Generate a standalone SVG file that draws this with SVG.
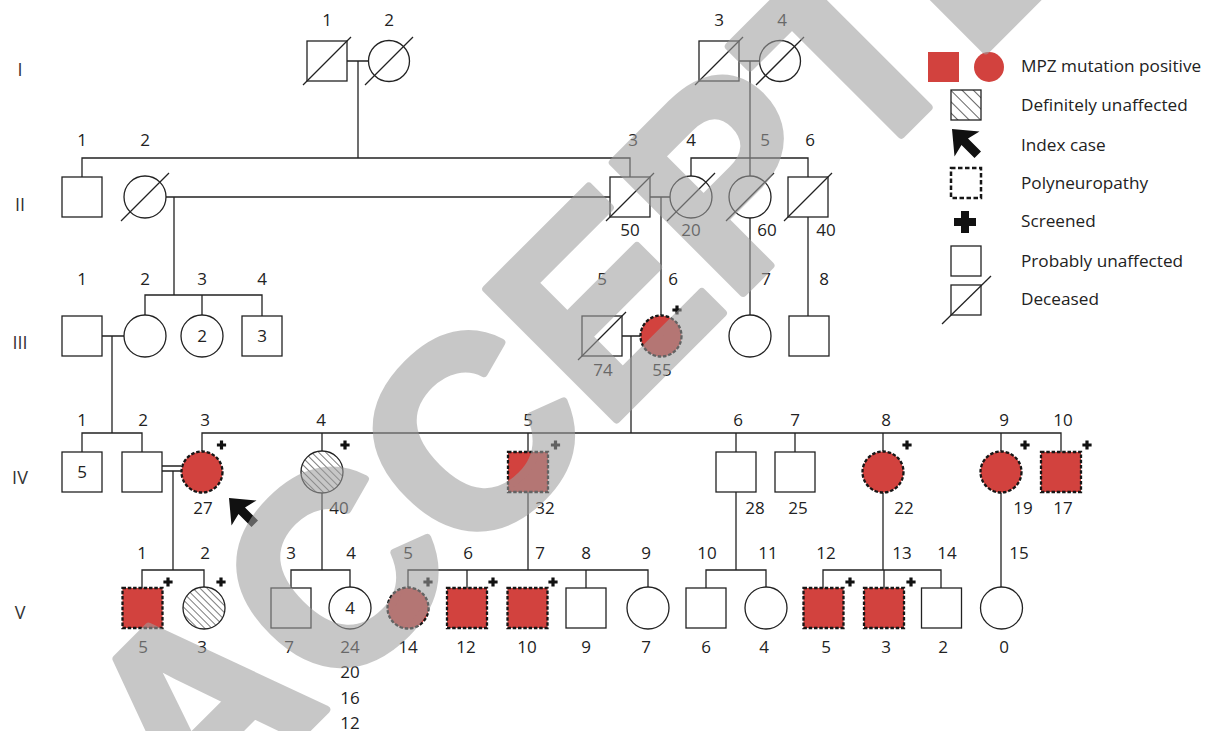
<svg xmlns="http://www.w3.org/2000/svg" xmlns:xlink="http://www.w3.org/1999/xlink" width="1213" height="731" viewBox="0 0 1213 731">
<style>
.ln{stroke:#222;stroke-width:1.3;fill:none}
.nd{fill:#fff;stroke:#222;stroke-width:1.3}
.aff{fill:#d2423e;stroke:#161616;stroke-width:2.3;stroke-dasharray:3.5 1.8}
.hat{fill:url(#hatch);stroke:#222;stroke-width:1.3}
.sl{stroke:#222;stroke-width:1.3}
.t{font-family:"Open Sans","Liberation Sans",sans-serif;font-size:17px;fill:#222;text-anchor:middle}
.g{font-family:"Open Sans","Liberation Sans",sans-serif;font-size:18px;fill:#333;text-anchor:middle}
.lg{font-family:"Open Sans","Liberation Sans",sans-serif;font-size:17.2px;fill:#222}
.pl{fill:#111}
</style>
<defs>
<pattern id="hatch" width="5" height="10" patternUnits="userSpaceOnUse" patternTransform="rotate(-45)"><line x1="0" y1="0" x2="0" y2="10" stroke="#222" stroke-width="1.2"/></pattern>
<pattern id="hatch2" width="8" height="10" patternUnits="userSpaceOnUse" patternTransform="rotate(-45)"><line x1="0" y1="0" x2="0" y2="10" stroke="#222" stroke-width="1.4"/></pattern>
<path id="plus" d="M-1.6,-4.6h3.2v3h3v3.2h-3v3h-3.2v-3h-3v-3.2h3z"/>
<path id="arrow" d="M0,0 L27.5,2.5 L16,9.5 L29,22.5 L22.5,29 L9.5,16 L2.5,27.5 Z"/>
</defs>
<rect width="1213" height="731" fill="#fff"/>

<g id="generations">
<text class="g" x="20" y="76">I</text>
<text class="g" x="20" y="211">II</text>
<text class="g" x="20" y="349">III</text>
<text class="g" x="20" y="484">IV</text>
<text class="g" x="20" y="619">V</text>
</g>

<g id="connectors" class="ln">
<path d="M347,61H368M358,61V158"/>
<path d="M739,61H759M750,61V176"/>
<path d="M82,177V158H630V177"/>
<path d="M691,176V158H808V177"/>
<path d="M166,197H610M174,197V295"/>
<path d="M650,197H670M661,197V315"/>
<path d="M750,218V315M808,217V316"/>
<path d="M145,315V295H262V316M202,295V315"/>
<path d="M102,336H124M112,336V433"/>
<path d="M622,336H640M631,336V433"/>
<path d="M82,452V433H142V452"/>
<path d="M202,451V433H1061V452M322,433V451M528,433V452M736,433V452M795,433V452M883,433V451M1001,433V451"/>
<path d="M162,466H181M162,471H181M173,471V570"/>
<path d="M322,493V570M528,492V570M736,492V570M883,493V570M1001,493V587"/>
<path d="M142,588V570H204V587"/>
<path d="M291,588V570H350V587"/>
<path d="M408,587V570H648V587M467,570V588M586,570V588"/>
<path d="M706,588V570H766V587"/>
<path d="M823,588V570H941V588M884,570V588"/>
</g>

<g id="I-1"><rect class="nd" x="307" y="41" width="40" height="40"/><line class="sl" x1="303" y1="85" x2="351" y2="37"/><text class="t" x="327" y="26">1</text></g>
<g id="I-2"><circle class="nd" cx="389" cy="61" r="20.5"/><line class="sl" x1="365" y1="85" x2="413" y2="37"/><text class="t" x="389" y="26">2</text></g>
<g id="I-3"><rect class="nd" x="699" y="41" width="40" height="40"/><line class="sl" x1="695" y1="85" x2="743" y2="37"/><text class="t" x="719" y="26">3</text></g>
<g id="I-4"><circle class="nd" cx="780" cy="61" r="20.5"/><line class="sl" x1="756" y1="85" x2="804" y2="37"/><text class="t" x="782" y="26">4</text></g>

<g id="II-1"><rect class="nd" x="62" y="177" width="40" height="40"/><text class="t" x="82" y="146">1</text></g>
<g id="II-2"><circle class="nd" cx="145" cy="197" r="21"/><line class="sl" x1="121" y1="221" x2="169" y2="173"/><text class="t" x="145" y="146">2</text></g>
<g id="II-3"><rect class="nd" x="610" y="177" width="40" height="40"/><line class="sl" x1="606" y1="221" x2="654" y2="173"/><text class="t" x="633" y="146">3</text><text class="t" x="630" y="236">50</text></g>
<g id="II-4"><circle class="nd" cx="691" cy="197" r="21"/><line class="sl" x1="667" y1="221" x2="715" y2="173"/><text class="t" x="691" y="146">4</text><text class="t" x="691" y="236">20</text></g>
<g id="II-5"><circle class="nd" cx="750" cy="197" r="21"/><line class="sl" x1="726" y1="221" x2="774" y2="173"/><text class="t" x="765" y="146">5</text><text class="t" x="767" y="236">60</text></g>
<g id="II-6"><rect class="nd" x="788" y="177" width="40" height="40"/><line class="sl" x1="784" y1="221" x2="832" y2="173"/><text class="t" x="810" y="146">6</text><text class="t" x="826" y="236">40</text></g>

<g id="III-1"><rect class="nd" x="62" y="316" width="40" height="40"/><text class="t" x="82" y="285">1</text></g>
<g id="III-2"><circle class="nd" cx="145" cy="336" r="21"/><text class="t" x="145" y="285">2</text></g>
<g id="III-3"><circle class="nd" cx="202" cy="336" r="21"/><text class="t" x="202" y="342">2</text><text class="t" x="202" y="285">3</text></g>
<g id="III-4"><rect class="nd" x="242" y="316" width="40" height="40"/><text class="t" x="262" y="342">3</text><text class="t" x="262" y="285">4</text></g>
<g id="III-5"><rect class="nd" x="582" y="316" width="40" height="40"/><line class="sl" x1="578" y1="360" x2="626" y2="312"/><text class="t" x="602" y="285">5</text><text class="t" x="603" y="376">74</text></g>
<g id="III-6"><circle class="aff" cx="661" cy="336" r="20.5"/><use href="#plus" class="pl" x="677" y="310"/><text class="t" x="673" y="285">6</text><text class="t" x="662" y="376">55</text></g>
<g id="III-7"><circle class="nd" cx="750" cy="336" r="21"/><text class="t" x="766" y="285">7</text></g>
<g id="III-8"><rect class="nd" x="789" y="316" width="40" height="40"/><text class="t" x="824" y="285">8</text></g>

<g id="IV-1"><rect class="nd" x="62" y="452" width="40" height="40"/><text class="t" x="82" y="478">5</text><text class="t" x="82" y="426">1</text></g>
<g id="IV-2"><rect class="nd" x="122" y="452" width="40" height="40"/><text class="t" x="143" y="426">2</text></g>
<g id="IV-3"><circle class="aff" cx="202" cy="472" r="20.5"/><use href="#plus" class="pl" x="221.5" y="445"/><text class="t" x="205" y="426">3</text><text class="t" x="203" y="514">27</text></g>
<g id="IV-4"><circle class="hat" cx="322" cy="472" r="21"/><use href="#plus" class="pl" x="345" y="445"/><text class="t" x="321" y="426">4</text><text class="t" x="339" y="514">40</text></g>
<g id="IV-5"><rect class="aff" x="508" y="452" width="40" height="40"/><use href="#plus" class="pl" x="555.5" y="445"/><text class="t" x="528" y="426">5</text><text class="t" x="545" y="514">32</text></g>
<g id="IV-6"><rect class="nd" x="716" y="452" width="40" height="40"/><text class="t" x="738" y="426">6</text><text class="t" x="755" y="514">28</text></g>
<g id="IV-7"><rect class="nd" x="775" y="452" width="40" height="40"/><text class="t" x="795" y="426">7</text><text class="t" x="798" y="514">25</text></g>
<g id="IV-8"><circle class="aff" cx="883" cy="472" r="20.5"/><use href="#plus" class="pl" x="907" y="445"/><text class="t" x="886" y="426">8</text><text class="t" x="904" y="514">22</text></g>
<g id="IV-9"><circle class="aff" cx="1001" cy="472" r="20.5"/><use href="#plus" class="pl" x="1025" y="445"/><text class="t" x="1004" y="426">9</text><text class="t" x="1023" y="514">19</text></g>
<g id="IV-10"><rect class="aff" x="1041" y="452" width="40" height="40"/><use href="#plus" class="pl" x="1087" y="445"/><text class="t" x="1063" y="426">10</text><text class="t" x="1063" y="514">17</text></g>
<g id="index-arrow"><use href="#arrow" fill="#111" x="229" y="498"/></g>

<g id="V-1"><rect class="aff" x="122.5" y="588" width="40" height="40"/><use href="#plus" class="pl" x="168" y="582"/><text class="t" x="142" y="559">1</text><text class="t" x="143" y="653">5</text></g>
<g id="V-2"><circle class="hat" cx="204" cy="608" r="21"/><use href="#plus" class="pl" x="221" y="582"/><text class="t" x="205" y="559">2</text><text class="t" x="202" y="653">3</text></g>
<g id="V-3"><rect class="nd" x="271" y="588" width="40" height="40"/><text class="t" x="291" y="559">3</text><text class="t" x="289" y="653">7</text></g>
<g id="V-4"><circle class="nd" cx="350" cy="608" r="21"/><text class="t" x="350" y="614">4</text><text class="t" x="351" y="559">4</text><text class="t" x="350" y="653">24</text><text class="t" x="350" y="678">20</text><text class="t" x="350" y="703.5">16</text><text class="t" x="350" y="728.5">12</text></g>
<g id="V-5"><circle class="aff" cx="408" cy="608" r="20.5"/><use href="#plus" class="pl" x="428" y="582"/><text class="t" x="408" y="559">5</text><text class="t" x="408" y="653">14</text></g>
<g id="V-6"><rect class="aff" x="447" y="588" width="40" height="40"/><use href="#plus" class="pl" x="493" y="582"/><text class="t" x="468" y="559">6</text><text class="t" x="466" y="653">12</text></g>
<g id="V-7"><rect class="aff" x="507.5" y="588" width="40" height="40"/><use href="#plus" class="pl" x="553" y="582"/><text class="t" x="540" y="559">7</text><text class="t" x="527" y="653">10</text></g>
<g id="V-8"><rect class="nd" x="566" y="588" width="40" height="40"/><text class="t" x="586" y="559">8</text><text class="t" x="586" y="653">9</text></g>
<g id="V-9"><circle class="nd" cx="648" cy="608" r="21"/><text class="t" x="646" y="559">9</text><text class="t" x="646" y="653">7</text></g>
<g id="V-10"><rect class="nd" x="686" y="588" width="40" height="40"/><text class="t" x="707" y="559">10</text><text class="t" x="706" y="653">6</text></g>
<g id="V-11"><circle class="nd" cx="766" cy="608" r="21"/><text class="t" x="768" y="559">11</text><text class="t" x="764" y="653">4</text></g>
<g id="V-12"><rect class="aff" x="803.5" y="588" width="40" height="40"/><use href="#plus" class="pl" x="850" y="582"/><text class="t" x="826" y="559">12</text><text class="t" x="826" y="653">5</text></g>
<g id="V-13"><rect class="aff" x="864" y="588" width="40" height="40"/><use href="#plus" class="pl" x="911" y="582"/><text class="t" x="902" y="559">13</text><text class="t" x="886" y="653">3</text></g>
<g id="V-14"><rect class="nd" x="921.5" y="588" width="40" height="40"/><text class="t" x="947" y="559">14</text><text class="t" x="943" y="653">2</text></g>
<g id="V-15"><circle class="nd" cx="1001.5" cy="608" r="21"/><text class="t" x="1019" y="559">15</text><text class="t" x="1004" y="653">0</text></g>

<g id="legend">
<rect x="928" y="52" width="31" height="30" fill="#d2423e"/>
<circle cx="989" cy="67" r="15" fill="#d2423e"/>
<text class="lg" x="1021" y="72">MPZ mutation positive</text>
<rect x="951" y="90" width="30" height="30" fill="url(#hatch2)" stroke="#222" stroke-width="1.3"/>
<text class="lg" x="1021" y="111">Definitely unaffected</text>
<use href="#arrow" fill="#111" x="952" y="129"/>
<text class="lg" x="1021" y="151">Index case</text>
<rect x="951" y="168" width="30" height="30" fill="#fff" stroke="#161616" stroke-width="2.5" stroke-dasharray="4.5 2.5"/>
<text class="lg" x="1021" y="189">Polyneuropathy</text>
<path d="M961,211h8v7h7v8h-7v7h-8v-7h-7v-8h7z" fill="#111"/>
<text class="lg" x="1021" y="227">Screened</text>
<rect x="951" y="246" width="30" height="30" fill="#fff" stroke="#222" stroke-width="1.3"/>
<text class="lg" x="1021" y="267">Probably unaffected</text>
<rect x="951" y="285" width="30" height="30" fill="#fff" stroke="#222" stroke-width="1.3"/>
<line x1="942" y1="324" x2="991" y2="276" stroke="#222" stroke-width="1.3"/>
<text class="lg" x="1021" y="305">Deceased</text>
</g>

<g id="watermark" opacity="0.57">
<text transform="translate(194.5 841.5) rotate(-45)" x="0 193 386 579 758 937 1101 1280" y="0" font-family="Liberation Sans" font-weight="bold" font-size="268" fill="#9e9e9e" stroke="#9e9e9e" stroke-width="8" stroke-linejoin="round">ACCEPTED</text>
</g>
</svg>
